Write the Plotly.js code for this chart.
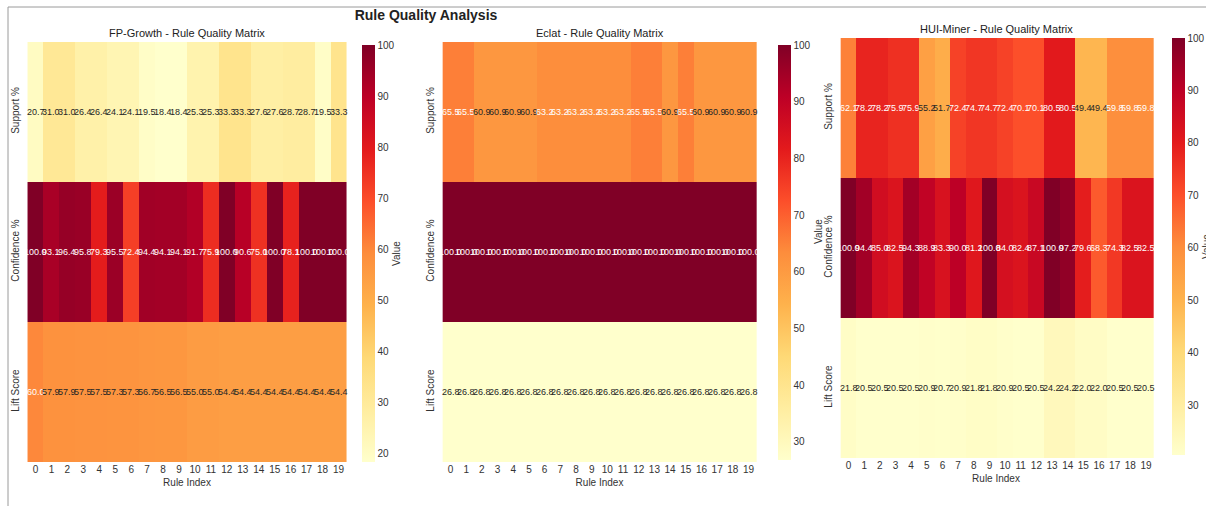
<!DOCTYPE html>
<html>
<head>
<meta charset="utf-8">
<script src="https://cdn.plot.ly/plotly-3.0.1.min.js"></script>
<style>html,body{margin:0;padding:0;background:#fff;}#chart{width:1206px;height:506px;}</style>
</head>
<body>
<div id="chart"></div>
<script>
const ruleIndex = [0,1,2,3,4,5,6,7,8,9,10,11,12,13,14,15,16,17,18,19];
const metrics = ['Support %', 'Confidence %', 'Lift Score'];
const algorithms = ['FP-Growth', 'Eclat', 'HUI-Miner'];

const fpSupport = [20.7,31.0,31.0,26.4,26.4,24.1,24.1,19.5,18.4,18.4,25.3,25.3,33.3,33.3,27.6,27.6,28.7,28.7,19.5,33.3];
const fpConfidence = [100.0,93.1,96.4,95.8,79.3,95.5,72.4,94.4,94.1,94.1,91.7,75.9,100.0,90.6,75.0,100.0,78.1,100.0,100.0,100.0];
const fpLift = [60.0,57.9,57.9,57.5,57.5,57.3,57.3,56.7,56.5,56.5,55.0,55.0,54.4,54.4,54.4,54.4,54.4,54.4,54.4,54.4];

const eclatSupport = [65.5,65.5,60.9,60.9,60.9,60.9,63.2,63.2,63.2,63.2,63.2,63.2,65.5,65.5,60.9,65.5,60.9,60.9,60.9,60.9];
const eclatConfidence = [100.0,100.0,100.0,100.0,100.0,100.0,100.0,100.0,100.0,100.0,100.0,100.0,100.0,100.0,100.0,100.0,100.0,100.0,100.0,100.0];
const eclatLift = [26.8,26.8,26.8,26.8,26.8,26.8,26.8,26.8,26.8,26.8,26.8,26.8,26.8,26.8,26.8,26.8,26.8,26.8,26.8,26.8];

const huiSupport = [62.1,78.2,78.2,75.9,75.9,55.2,51.7,72.4,74.7,74.7,72.4,70.1,70.1,80.5,80.5,49.4,49.4,59.8,59.8,59.8];
const huiConfidence = [100.0,94.4,85.0,82.5,94.3,88.9,83.3,90.0,81.2,100.0,84.0,82.4,87.1,100.0,97.2,79.6,68.3,74.3,82.5,82.5];
const huiLift = [21.8,20.5,20.5,20.5,20.5,20.9,20.7,20.9,21.8,21.8,20.9,20.5,20.5,24.2,24.2,22.0,22.0,20.5,20.5,20.5];

const colorTicks = [20,30,40,50,60,70,80,90,100];

const YlOrRd = [
  [0.0,'#ffffcc'],[0.125,'#ffeda0'],[0.25,'#fed976'],[0.375,'#feb24c'],
  [0.5,'#fd8d3c'],[0.625,'#fc4e2a'],[0.75,'#e31a1c'],[0.875,'#bd0026'],[1.0,'#800026']
];

const W = 1206, H = 506;
const px = v => v / W;
const py = v => 1 - v / H;
const narrow = 'Liberation Sans Narrow, Arial Narrow, Liberation Sans, Arial, sans-serif';

const panels = [
  {z:[fpSupport, fpConfidence, fpLift], x0:22, x1:352, y0:42, y1:462, cbx:352, cby0:45, cby1:462, title:algorithms[0]+' - Rule Quality Matrix', ty:33, cbTitle:true},
  {z:[eclatSupport, eclatConfidence, eclatLift], x0:437, x1:762, y0:42, y1:462, cbx:768, cby0:45, cby1:460, title:algorithms[1]+' - Rule Quality Matrix', ty:33, cbTitle:false, cbTitleX:818, cbTitleY:232},
  {z:[huiSupport, huiConfidence, huiLift], x0:835, x1:1157, y0:38, y1:458, cbx:1162, cby0:38, cby1:455, title:algorithms[2]+' - Rule Quality Matrix', ty:29, cbTitle:true}
];

const traces = [];
const annotations = [];
const layout = {
  width: W, height: H,
  margin: {l:0, r:0, t:0, b:0, autoexpand: false},
  paper_bgcolor: '#fff', plot_bgcolor: '#fff',
  font: {family: 'Liberation Sans, Arial, sans-serif', color: '#333'},
  title: {text: '<b>Rule Quality Analysis</b>', x: px(426), xanchor: 'center', y: py(15), yanchor: 'middle',
          font: {size: 14, color: '#222', family: narrow}},
  annotations: annotations,
  shapes: [
    {type:'line', xref:'paper', yref:'paper', x0:px(8), x1:1, y0:py(7), y1:py(7), line:{color:'#9a9a9a', width:1}},
    {type:'line', xref:'paper', yref:'paper', x0:px(8), x1:px(8), y0:py(7), y1:0, line:{color:'#9a9a9a', width:1}}
  ]
};

panels.forEach((p, i) => {
  const n = i + 1;
  const sfx = n === 1 ? '' : String(n);
  const all = [].concat(...p.z);
  const zmin = Math.min(...all), zmax = Math.max(...all);
  traces.push({
    type: 'heatmap',
    x: ruleIndex, y: metrics, z: p.z,
    xaxis: 'x' + sfx, yaxis: 'y' + sfx,
    colorscale: YlOrRd, zmin: zmin, zmax: zmax,
    hoverinfo: 'x+y+z',
    colorbar: {
      x: px(p.cbx), xanchor: 'left', xref: 'paper',
      y: py(p.cby1), yanchor: 'bottom', len: (p.cby1 - p.cby0) / H, lenmode: 'fraction',
      thickness: 13, thicknessmode: 'pixels', outlinewidth: 0, ypad: 0,
      tickvals: colorTicks, ticks: '', ticklen: 0,
      tickfont: {size: 10, color: '#333', family: narrow},
      title: {text: p.cbTitle ? 'Value' : '', side: 'right', font: {size: 10, color: '#333'}}
    }
  });
  if (!p.cbTitle) {
    annotations.push({
      xref: 'paper', yref: 'paper', x: px(p.cbTitleX), y: py(p.cbTitleY), xanchor: 'center', yanchor: 'middle',
      text: 'Value', textangle: -90, showarrow: false, font: {size: 10, color: '#333'}
    });
  }
  layout['xaxis' + sfx] = {
    domain: [px(p.x0), px(p.x1)], anchor: 'y' + sfx,
    tickmode: 'array', tickvals: ruleIndex, ticktext: ruleIndex.map(String),
    tickangle: 0, showgrid: false, zeroline: false, showline: false, ticks: '',
    tickfont: {size: 10, color: '#333'},
    title: {text: 'Rule Index', font: {size: 10, color: '#333'}, standoff: 4}
  };
  layout['yaxis' + sfx] = {
    domain: [py(p.y1), py(p.y0)], anchor: 'x' + sfx,
    autorange: 'reversed', tickangle: -90, showgrid: false, zeroline: false, showline: false, ticks: '',
    tickfont: {size: 10, color: '#333'}
  };
  annotations.push({
    xref: 'paper', yref: 'paper', x: px((p.x0 + p.x1) / 2), y: py(p.ty), xanchor: 'center', yanchor: 'middle',
    text: p.title, showarrow: false,
    font: {size: 11, color: '#222', family: narrow}
  });
  p.z.forEach((row, r) => {
    row.forEach((v, c) => {
      const t = (v - zmin) / (zmax - zmin);
      annotations.push({
        xref: 'x' + sfx, yref: 'y' + sfx,
        x: ruleIndex[c], y: metrics[r], text: v.toFixed(1), showarrow: false,
        font: {size: 9, color: t > 0.485 ? '#ffffff' : '#262626', family: narrow}
      });
    });
  });
});

Plotly.newPlot('chart', traces, layout, {displayModeBar: false, staticPlot: true});
</script>
</body>
</html>
